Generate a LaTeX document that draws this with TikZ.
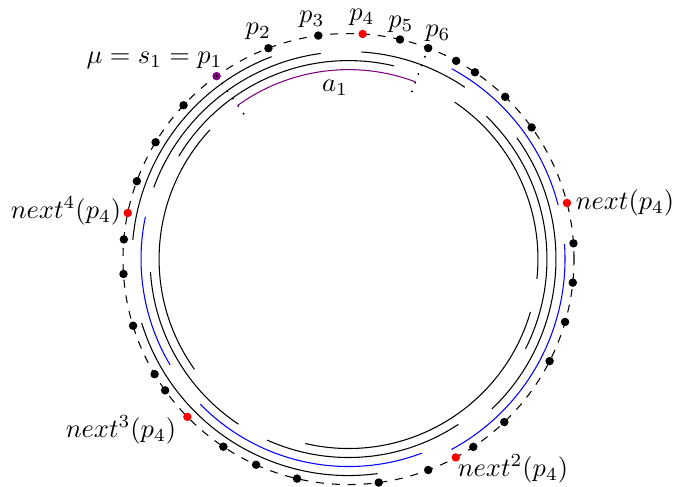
\documentclass[tikz,border=0pt]{standalone}
\begin{document}
\begin{tikzpicture}[
    pt/.style={circle, fill=#1, inner sep=0pt, minimum size=3.2pt},
    pt/.default=black,
    radial/.style={dash pattern=on 0pt off 3.5pt, line cap=round, line width=0.8pt}
  ]
  \useasboundingbox (-4.636,-3.02) rectangle (4.33,3.446);

  % Ring of points (dashed)
  \draw[dashed] (0,0) circle (3);

  % Arcs of the family (black), radius/from/to
  \foreach \r/\a/\b in {2.88/110.8/175, 2.88/-162.8/-82.3,
      2.76/97.7/159.8, 2.76/55.9/86.4, 2.76/-46.3/35.7,
      2.64/76.8/148.8, 2.64/-26.9/46.0, 2.64/-114.2/-56.4, 2.64/-176.2/-123.7,
      2.52/137.0/215.6, 2.52/-6.0/55.9, 2.52/-103.2/-16.2} {
    \draw (\a:\r) arc[start angle=\a, end angle=\b, radius=\r];
  }

  % Greedy chain from p_4 (blue)
  \foreach \r/\a/\b in {2.88/14.4/61.5, 2.88/-61.6/4.0,
      2.76/-135.6/-69.3, 2.76/168.2/210.7} {
    \draw[blue] (\a:\r) arc[start angle=\a, end angle=\b, radius=\r];
  }

  % a_1 (purple)
  \draw[violet] (69.3:2.52) arc[start angle=69.3, end angle=125.8, radius=2.52];

  % Points on the ring
  \foreach \a [count=\i] in {61.5, 55.9, 46.0, 35.7, 4.0, -6.0, -16.2, -26.9,
      -46.3, -56.4, -69.3, -82.3, -103.2, -114.2, -123.7, -144.4, -149.3,
      -162.8, -176.2, 175.0, 159.8, 148.8, 137.0} {
    \node[pt] (d\i) at (\a:3) {};
  }
  \node[pt=violet] (p1) at (125.8:3) {};
  \node[pt] (p2) at (110.8:3) {};
  \node[pt] (p3) at (97.7:3) {};
  \node[pt=red] (p4) at (86.4:3) {};
  \node[pt] (p5) at (76.8:3) {};
  \node[pt] (p6) at (69.3:3) {};
  % next^k(p_4)
  \node[pt=red] (n1) at (14.4:3) {};
  \node[pt=red] (n2) at (-61.6:3) {};
  \node[pt=red] (n3) at (-135.6:3) {};
  \node[pt=red] (n4) at (168.2:3) {};

  % Ends of a_1 (dotted)
  \coordinate (p1in) at (125.8:2.35);
  \coordinate (p6in) at (69.3:2.33);
  \draw[radial] (p1.center) -- (p1in);
  \draw[radial] (p6.center) -- (p6in);

  % Labels
  \node (lp2) at (111.6:3.26) {$p_2$};
  \node (lp3) at (98.7:3.23) {$p_3$};
  \node (lp4) at (86.8:3.22) {$p_4$};
  \node (lp5) at (77.4:3.2) {$p_5$};
  \node (lp6) at (68.4:3.23) {$p_6$};
  \node (lmu) at (-2.58,2.647) {$\mu=s_1=p_1$};
  \node (la1) at (-0.18,2.281) {$a_1$};
  \node (ln1) at (3.678,0.752) {$next(p_4)$};
  \node (ln2) at (2.188,-2.794) {$next^2(p_4)$};
  \node (ln3) at (-3.027,-2.275) {$next^3(p_4)$};
  \node (ln4) at (-3.758,0.639) {$next^4(p_4)$};
\end{tikzpicture}
\end{document}
